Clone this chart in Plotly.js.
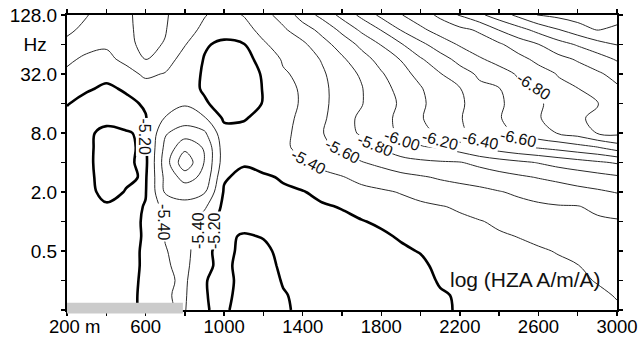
<!DOCTYPE html>
<html>
<head>
<meta charset="utf-8">
<script src="https://cdn.plot.ly/plotly-3.0.1.min.js"></script>
<style>
  html, body { margin: 0; padding: 0; background: #ffffff; }
  #chart { width: 642px; height: 337px; }
</style>
</head>
<body>
<div id="chart"></div>
<script>
// Distance along the profile (m)
const distanceM = [200, 300, 400, 500, 600, 700, 800, 900, 1000, 1100, 1200, 1300, 1400, 1500,
  1600, 1700, 1800, 1900, 2000, 2100, 2200, 2300, 2400, 2500, 2600, 2700, 2800, 2900, 3000];

// Frequency rows, stored as log2(Hz): 128 Hz down to 0.125 Hz in half-octave steps
const log2Hz = [7, 6.5, 6, 5.5, 5, 4.5, 4, 3.5, 3, 2.5, 2, 1.5, 1, 0.5, 0, -0.5, -1, -1.5, -2, -2.5, -3];

// log(HZA A/m/A) for each frequency row, one value per distance
const hz128  = [-5.68,-5.61,-5.50,-5.57,-5.66,-5.62,-5.50,-5.41,-5.33,-5.41,-5.54,-5.67,-5.89,-6.06,-6.26,-6.45,-6.65,-6.79,-6.91,-7.04,-7.22,-7.36,-7.50,-7.65,-7.81,-7.85,-7.90,-7.92,-7.90];
const hz90   = [-5.64,-5.55,-5.48,-5.55,-5.68,-5.61,-5.47,-5.36,-5.28,-5.32,-5.47,-5.57,-5.71,-5.86,-6.05,-6.24,-6.41,-6.61,-6.76,-6.88,-6.95,-7.03,-7.21,-7.33,-7.465,-7.59,-7.705,-7.81,-7.75];
const hz64   = [-5.55,-5.45,-5.42,-5.56,-5.64,-5.59,-5.41,-5.22,-5.16,-5.19,-5.37,-5.50,-5.56,-5.73,-5.88,-6.05,-6.21,-6.38,-6.55,-6.70,-6.82,-6.90,-6.97,-7.10,-7.195,-7.32,-7.42,-7.525,-7.605];
const hz45   = [-5.43,-5.37,-5.36,-5.44,-5.61,-5.48,-5.33,-5.19,-5.10,-5.13,-5.27,-5.42,-5.48,-5.62,-5.77,-5.92,-6.07,-6.21,-6.38,-6.52,-6.66,-6.78,-6.86,-6.94,-7.05,-7.14,-7.22,-7.31,-7.42];
const hz32   = [-5.37,-5.29,-5.25,-5.34,-5.43,-5.39,-5.28,-5.18,-5.08,-5.10,-5.22,-5.38,-5.44,-5.57,-5.73,-5.82,-5.98,-6.12,-6.27,-6.39,-6.52,-6.63,-6.73,-6.82,-6.92,-7.01,-7.10,-7.17,-7.26];
const hz23   = [-5.30,-5.22,-5.17,-5.22,-5.33,-5.32,-5.30,-5.17,-5.06,-5.08,-5.21,-5.35,-5.42,-5.54,-5.72,-5.79,-5.94,-6.05,-6.18,-6.35,-6.39,-6.56,-6.59,-6.76,-6.79,-6.955,-6.995,-7.08,-7.17];
const hz16   = [-5.21,-5.14,-5.12,-5.16,-5.22,-5.33,-5.38,-5.23,-5.10,-5.10,-5.21,-5.35,-5.415,-5.54,-5.72,-5.79,-5.93,-6.02,-6.16,-6.30,-6.36,-6.52,-6.56,-6.71,-6.76,-6.91,-6.96,-6.99,-7.12];
const hz11   = [-5.15,-5.10,-5.12,-5.13,-5.19,-5.41,-5.50,-5.42,-5.17,-5.18,-5.28,-5.36,-5.43,-5.56,-5.74,-5.83,-5.96,-6.03,-6.19,-6.26,-6.39,-6.47,-6.59,-6.67,-6.79,-6.86,-6.98,-7.03,-7.07];
const hz8    = [-5.12,-5.15,-5.27,-5.215,-5.17,-5.58,-5.70,-5.63,-5.27,-5.28,-5.30,-5.37,-5.44,-5.59,-5.74,-5.82,-5.95,-6.02,-6.16,-6.22,-6.38,-6.43,-6.55,-6.62,-6.74,-6.81,-6.88,-7.01,-7.05];
const hz5_7  = [-5.10,-5.14,-5.31,-5.23,-5.17,-5.65,-5.95,-5.78,-5.30,-5.27,-5.32,-5.38,-5.43,-5.56,-5.63,-5.72,-5.81,-5.905,-5.97,-6.01,-6.09,-6.21,-6.29,-6.36,-6.41,-6.46,-6.52,-6.58,-6.69];
const hz4    = [-5.08,-5.13,-5.34,-5.23,-5.16,-5.70,-6.15,-5.79,-5.30,-5.22,-5.28,-5.30,-5.38,-5.45,-5.51,-5.59,-5.65,-5.73,-5.76,-5.78,-5.79,-5.85,-5.91,-5.96,-6.01,-6.07,-6.12,-6.17,-6.22];
const hz2_8  = [-5.08,-5.13,-5.31,-5.23,-5.18,-5.65,-5.88,-5.75,-5.22,-5.15,-5.17,-5.22,-5.29,-5.35,-5.39,-5.45,-5.50,-5.54,-5.58,-5.62,-5.65,-5.69,-5.73,-5.77,-5.81,-5.85,-5.89,-5.93,-5.97];
const hz2    = [-5.08,-5.13,-5.27,-5.19,-5.19,-5.62,-5.67,-5.62,-5.18,-5.12,-5.12,-5.17,-5.19,-5.25,-5.30,-5.35,-5.375,-5.41,-5.45,-5.50,-5.53,-5.55,-5.59,-5.63,-5.67,-5.70,-5.74,-5.77,-5.81];
const hz1_4  = [-5.08,-5.12,-5.17,-5.14,-5.21,-5.48,-5.54,-5.43,-5.15,-5.10,-5.10,-5.14,-5.16,-5.18,-5.21,-5.27,-5.30,-5.34,-5.37,-5.39,-5.42,-5.48,-5.51,-5.545,-5.57,-5.587,-5.59,-5.64,-5.67];
const hz1    = [-5.08,-5.10,-5.12,-5.14,-5.22,-5.42,-5.50,-5.30,-5.14,-5.12,-5.12,-5.13,-5.14,-5.14,-5.16,-5.19,-5.23,-5.28,-5.31,-5.36,-5.37,-5.39,-5.43,-5.47,-5.50,-5.53,-5.55,-5.57,-5.585];
const hz0_71 = [-5.08,-5.09,-5.10,-5.13,-5.22,-5.41,-5.46,-5.28,-5.16,-5.22,-5.19,-5.14,-5.14,-5.13,-5.13,-5.16,-5.17,-5.22,-5.26,-5.33,-5.33,-5.35,-5.38,-5.405,-5.44,-5.47,-5.50,-5.53,-5.55];
const hz0_5  = [-5.08,-5.09,-5.10,-5.13,-5.23,-5.39,-5.47,-5.24,-5.14,-5.25,-5.24,-5.15,-5.15,-5.13,-5.12,-5.13,-5.14,-5.17,-5.21,-5.29,-5.30,-5.32,-5.34,-5.36,-5.38,-5.41,-5.45,-5.49,-5.52];
const hz0_35 = [-5.08,-5.09,-5.10,-5.13,-5.23,-5.38,-5.45,-5.24,-5.15,-5.27,-5.26,-5.17,-5.16,-5.13,-5.12,-5.12,-5.12,-5.14,-5.16,-5.25,-5.27,-5.29,-5.31,-5.33,-5.35,-5.37,-5.395,-5.45,-5.48];
const hz0_25 = [-5.08,-5.09,-5.10,-5.13,-5.24,-5.37,-5.43,-5.21,-5.14,-5.26,-5.27,-5.19,-5.17,-5.12,-5.11,-5.11,-5.11,-5.12,-5.13,-5.22,-5.24,-5.26,-5.28,-5.30,-5.32,-5.34,-5.37,-5.41,-5.45];
const hz0_18 = [-5.08,-5.09,-5.10,-5.13,-5.25,-5.39,-5.42,-5.21,-5.15,-5.27,-5.28,-5.21,-5.17,-5.11,-5.10,-5.10,-5.10,-5.11,-5.11,-5.18,-5.22,-5.24,-5.26,-5.28,-5.30,-5.31,-5.34,-5.37,-5.41];
const hz0_125= [-5.08,-5.09,-5.10,-5.13,-5.25,-5.39,-5.41,-5.21,-5.17,-5.28,-5.29,-5.22,-5.17,-5.11,-5.10,-5.10,-5.10,-5.10,-5.11,-5.15,-5.23,-5.22,-5.24,-5.26,-5.28,-5.28,-5.31,-5.34,-5.38];

// Contour levels: one bold reference isoline, thin isolines every 0.2
const boldLevel = -5.2;
const thinFirst = -8.0;
const thinLast = -5.4;
const levelStep = 0.2;

// Levels written on the isolines
const labelledLevels = [-5.2, -5.4, -5.4, -5.2, -5.4, -5.6, -5.8, -6.0, -6.2, -6.4, -6.6, -6.8];

// Axis ticks
const xTickVals = [200, 400, 600, 800, 1000, 1200, 1400, 1600, 1800, 2000, 2200, 2400, 2600, 2800, 3000];
const xTickText = ['\u00a0\u00a0\u00a0200 m', '', '600', '', '1000', '', '1400', '', '1800', '', '2200', '', '2600', '', '3000'];
const yTickVals = [-3, -2, -1, 0, 1, 2, 3, 4, 5, 6, 7];
const yTickText = ['', '', '0.5', '', '2.0', '', '8.0', '', '32.0', 'Hz\u00a0\u00a0', '128.0'];

const zGrid = [hz128, hz90, hz64, hz45, hz32, hz23, hz16, hz11, hz8, hz5_7, hz4, hz2_8,
  hz2, hz1_4, hz1, hz0_71, hz0_5, hz0_35, hz0_25, hz0_18, hz0_125];

const FONT = 'Arial, "Liberation Sans", Helvetica, sans-serif';

const thinTrace = {
  type: 'contour',
  x: distanceM,
  y: log2Hz,
  z: zGrid,
  autocontour: false,
  contours: { coloring: 'none', start: thinFirst, end: thinLast + 0.01, size: levelStep, showlabels: false },
  line: { color: '#2a2a2a', width: 1, smoothing: 1 },
  showscale: false,
  hoverinfo: 'skip'
};

const boldTrace = {
  type: 'contour',
  x: distanceM,
  y: log2Hz,
  z: zGrid,
  autocontour: false,
  contours: { coloring: 'none', start: boldLevel, end: boldLevel, size: 0.1, showlabels: false },
  line: { color: '#000000', width: 2.6, smoothing: 1 },
  showscale: false,
  hoverinfo: 'skip'
};

// Placement of each isoline label (distance, log2 Hz, rotation)
const labelPlacement = [
  { x: 597,  y: 2.85,  a: 90 },
  { x: 694,  y: -0.02, a: 90 },
  { x: 872,  y: -0.32, a: -90 },
  { x: 948,  y: -0.29, a: -90 },
  { x: 1427, y: 2.02,  a: 28 },
  { x: 1605, y: 2.36,  a: 27 },
  { x: 1773, y: 2.59,  a: 22 },
  { x: 1910, y: 2.76,  a: 18 },
  { x: 2099, y: 2.76,  a: 15 },
  { x: 2303, y: 2.73,  a: 13 },
  { x: 2501, y: 2.80,  a: 12 },
  { x: 2577, y: 4.56,  a: 33 }
];

const annotations = labelledLevels.map((lv, i) => ({
  x: labelPlacement[i].x,
  y: labelPlacement[i].y,
  xref: 'x', yref: 'y',
  text: lv.toFixed(2),
  textangle: labelPlacement[i].a,
  showarrow: false,
  bgcolor: '#ffffff',
  borderpad: 0,
  font: { family: FONT, size: 16, color: '#111111' }
}));

annotations.push({
  x: 2532, y: -1.95, xref: 'x', yref: 'y',
  text: 'log (HZA A/m/A)',
  showarrow: false,
  font: { family: FONT, size: 21, color: '#111111' }
});

const axisCommon = {
  showgrid: false,
  zeroline: false,
  showline: true,
  linecolor: '#000000',
  linewidth: 2,
  mirror: 'ticks',
  ticks: 'outside',
  ticklen: 4,
  tickwidth: 1.5,
  tickcolor: '#000000',
  tickfont: { family: FONT, size: 19, color: '#000000' }
};

const layout = {
  width: 642,
  height: 337,
  margin: { l: 67, r: 25, t: 15, b: 27, pad: 0 },
  paper_bgcolor: '#ffffff',
  plot_bgcolor: '#ffffff',
  showlegend: false,
  hovermode: false,
  xaxis: Object.assign({}, axisCommon, {
    range: [200, 3000],
    tickmode: 'array',
    tickvals: xTickVals,
    ticktext: xTickText,
    ticklabelstandoff: -5,
    tickfont: { family: FONT, size: 18.5, color: '#000000' }
  }),
  yaxis: Object.assign({}, axisCommon, {
    range: [-3, 7],
    tickmode: 'array',
    tickvals: yTickVals,
    ticktext: yTickText
  }),
  shapes: [{
    type: 'rect', xref: 'x', yref: 'paper',
    x0: 200, x1: 790, y0: -0.012, y1: 0.025,
    fillcolor: '#cbcbcb', line: { width: 0 }, layer: 'above'
  }],
  annotations: annotations
};

Plotly.newPlot('chart', [thinTrace, boldTrace], layout, { displayModeBar: false, staticPlot: true });
</script>
</body>
</html>
